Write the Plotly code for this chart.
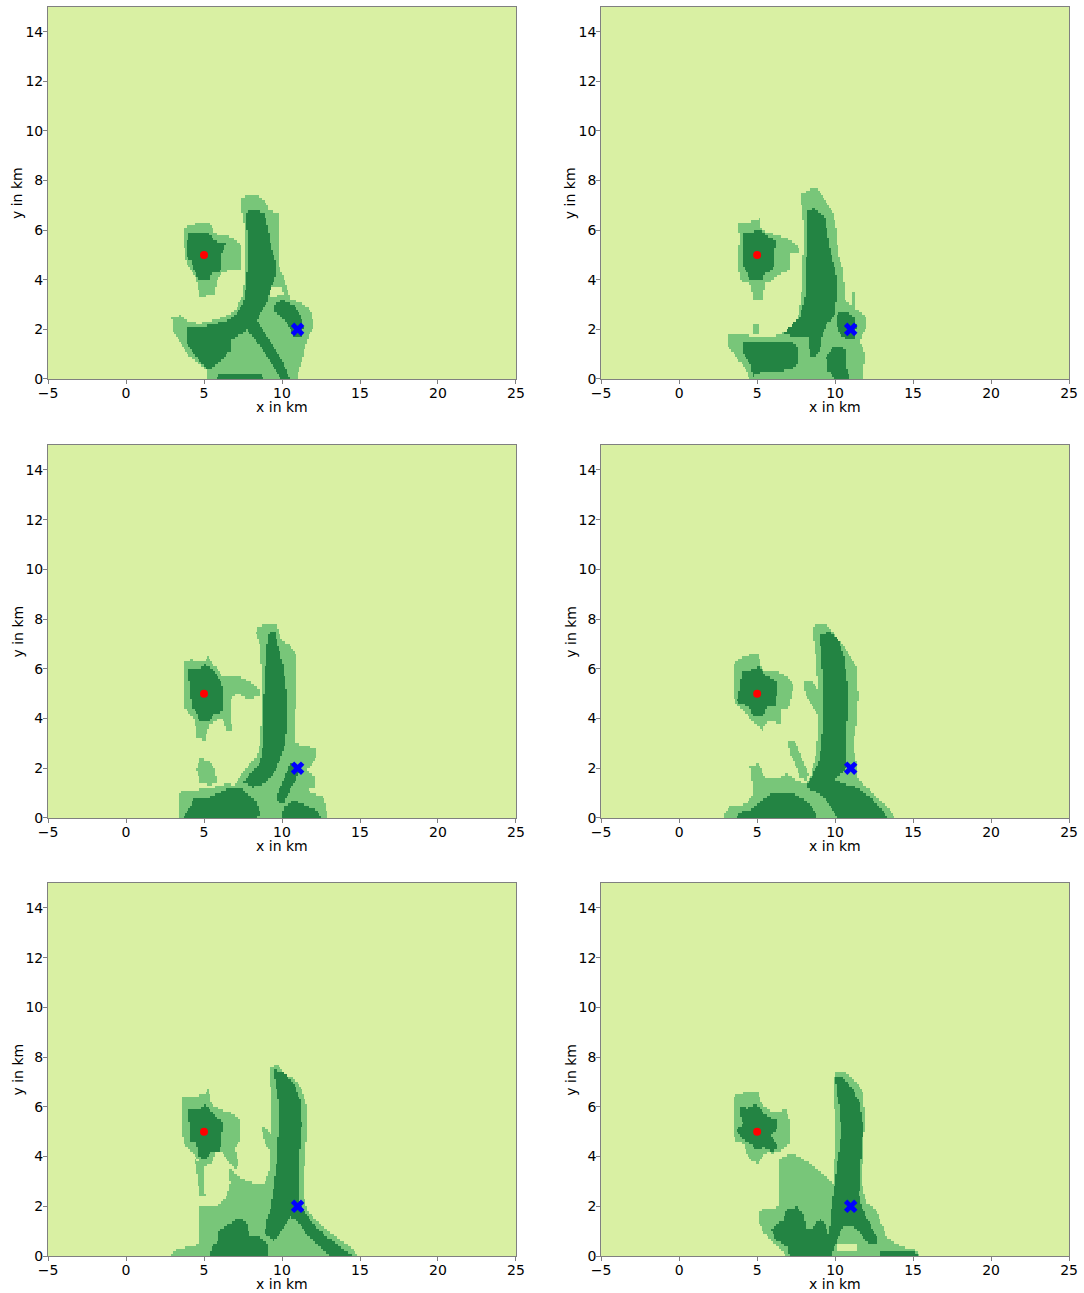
import numpy as np
import plotly.graph_objects as go

# ---- grid -------------------------------------------------------------
X_MIN, X_MAX, Y_MIN, Y_MAX, CELL = -5.0, 25.0, 0.0, 15.0, 0.1
SOURCE = (5.0, 5.0)     # red dot
RECEIVER = (11.0, 2.0)  # blue cross
X_TICKS = [-5, 0, 5, 10, 15, 20, 25]
Y_TICKS = [0, 2, 4, 6, 8, 10, 12, 14]
X_LABEL, Y_LABEL = "x in km", "y in km"

# ---- region outlines (km), per panel: medium class, light holes, dark class
P1_MID = [
    [(3.74, 6.13), (4.53, 6.27), (5.38, 6.29), (5.71, 5.86), (6.45, 5.79), (7.09, 5.59), (7.41, 5.32),
     (7.41, 4.45), (6.13, 4.31), (5.81, 3.98), (5.71, 3.44), (4.74, 3.30), (4.53, 3.98), (3.89, 4.65), (3.74, 5.32)],
    [(7.52, 7.34), (8.38, 7.41), (9.02, 7.07), (9.12, 6.80), (9.76, 6.67), (9.76, 4.65), (10.09, 4.11),
     (10.30, 3.71), (10.51, 3.24), (11.37, 3.03), (11.90, 2.70), (12.01, 2.09), (11.69, 1.69), (11.26, 0.75),
     (10.94, 0.0), (5.17, 0.0), (5.17, 0.34), (4.53, 0.68), (3.89, 1.02), (3.57, 1.42), (3.03, 1.96),
     (2.93, 2.50), (3.46, 2.56), (4.00, 2.29), (4.74, 2.23), (5.60, 2.36), (6.45, 2.56), (7.09, 2.83),
     (7.52, 3.44), (7.63, 4.65), (7.63, 6.00), (7.41, 6.80), (7.41, 7.21)],
]
P1_HOLE = [
    [(9.12, 3.64), (9.98, 3.68), (10.09, 3.37), (9.23, 3.33)],
]
P1_DARK = [
    [(4.00, 5.86), (4.74, 5.93), (5.28, 5.86), (5.81, 5.52), (6.45, 5.46), (6.13, 5.12), (6.03, 4.25),
     (5.49, 4.31), (5.38, 3.98), (4.64, 3.98), (4.38, 4.38), (4.21, 4.72), (3.89, 4.92), (3.93, 5.46)],
    [(7.69, 6.74), (8.38, 6.80), (8.91, 6.67), (9.12, 6.00), (9.34, 5.19), (9.62, 4.65), (9.55, 4.11),
     (9.23, 3.57), (9.02, 3.03), (8.59, 2.63), (8.38, 2.36), (8.80, 1.96), (9.44, 1.29), (10.09, 0.61),
     (10.51, 0.0), (9.98, 0.0), (9.44, 0.48), (8.80, 1.15), (8.16, 1.69), (7.74, 1.96), (7.09, 1.69),
     (6.67, 1.55), (6.67, 1.15), (6.13, 0.75), (5.28, 0.34), (4.53, 0.88), (3.89, 1.42), (3.85, 2.09),
     (4.74, 2.09), (5.81, 2.23), (6.56, 2.36), (7.09, 2.63), (7.52, 3.03), (7.74, 3.98), (7.78, 5.32),
     (7.74, 6.27)],
    [(9.55, 3.03), (10.09, 3.20), (10.73, 2.97), (11.15, 2.63), (11.37, 2.09), (11.26, 1.69), (10.73, 1.69),
     (10.51, 2.09), (9.98, 2.50), (9.49, 2.77)],
    [(5.92, 0.21), (8.59, 0.24), (8.80, 0.0), (5.81, 0.0)],
]

P2_MID = [
    [(3.78, 6.27), (4.53, 6.33), (5.17, 6.47), (5.28, 6.00), (6.24, 5.79), (6.99, 5.66), (7.74, 5.26),
     (7.74, 5.12), (7.09, 5.05), (7.09, 4.38), (6.45, 4.25), (6.03, 3.98), (5.49, 3.84), (5.38, 3.24),
     (4.74, 3.24), (4.53, 3.84), (3.89, 3.98), (3.78, 4.78), (3.89, 5.73)],
    [(7.84, 7.48), (8.70, 7.75), (9.02, 7.54), (9.44, 7.07), (9.87, 6.67), (10.09, 6.00), (10.19, 5.05),
     (10.51, 4.38), (10.62, 3.17), (11.37, 2.83), (12.01, 2.50), (12.01, 2.09), (11.58, 1.55), (11.90, 1.02),
     (11.79, 0.0), (4.53, 0.0), (4.32, 0.34), (3.68, 0.88), (3.14, 1.29), (3.14, 1.82), (4.10, 1.80),
     (4.96, 1.69), (6.03, 1.69), (6.99, 1.96), (7.63, 2.50), (7.84, 3.30), (7.95, 5.05), (7.95, 6.40),
     (7.84, 7.07)],
    [(11.05, 3.49), (11.26, 3.49), (11.26, 2.81), (11.05, 2.81)],
    [(4.74, 2.22), (5.06, 2.22), (5.06, 1.82), (4.74, 1.82)],
]
P2_HOLE = []
P2_DARK = [
    [(4.10, 5.86), (4.64, 5.93), (5.17, 6.02), (5.60, 5.79), (6.24, 5.59), (6.13, 5.19), (6.03, 4.38),
     (5.49, 4.31), (5.38, 3.98), (4.53, 3.98), (4.32, 4.38), (4.10, 4.52), (4.06, 5.32)],
    [(8.16, 6.80), (8.70, 6.87), (9.34, 6.53), (9.55, 5.73), (9.76, 4.92), (10.09, 4.11), (10.09, 3.30),
     (9.98, 2.63), (9.44, 2.16), (9.12, 1.69), (9.02, 1.15), (8.70, 0.88), (8.38, 0.95), (8.27, 1.69),
     (7.52, 1.69), (6.67, 1.82), (7.09, 2.09), (7.74, 2.50), (8.06, 3.30), (8.16, 5.05)],
    [(4.10, 1.49), (5.60, 1.55), (6.67, 1.55), (7.52, 1.42), (7.63, 0.88), (7.52, 0.48), (6.67, 0.34),
     (5.60, 0.34), (4.74, 0.14), (4.53, 0.61), (4.10, 1.02)],
    [(9.87, 1.29), (10.30, 1.35), (10.73, 1.15), (10.73, 0.48), (10.94, 0.0), (9.98, 0.0), (9.55, 0.34),
     (9.44, 0.88)],
    [(10.09, 2.63), (10.73, 2.74), (11.26, 2.50), (11.37, 2.09), (11.26, 1.62), (10.73, 1.55), (10.30, 1.82),
     (10.09, 2.16)],
]

P3_MID = [
    [(3.68, 6.29), (4.21, 6.36), (4.96, 6.29), (5.28, 6.49), (5.71, 6.09), (6.13, 5.69), (7.09, 5.75),
     (7.95, 5.48), (8.59, 5.15), (8.59, 4.88), (7.74, 4.81), (7.20, 5.01), (6.67, 4.81), (6.77, 3.53),
     (6.45, 3.53), (6.13, 4.07), (5.81, 3.94), (5.28, 3.73), (5.06, 3.13), (4.53, 3.20), (4.42, 3.94),
     (3.68, 4.48), (3.68, 5.42)],
    [(8.38, 7.64), (9.02, 7.84), (9.66, 7.77), (9.98, 7.10), (10.51, 6.96), (10.94, 6.49), (10.94, 5.01),
     (10.77, 3.94), (10.83, 2.99), (11.79, 2.86), (12.22, 2.73), (12.12, 2.32), (11.58, 1.92), (12.12, 1.65),
     (12.12, 1.24), (11.58, 1.11), (12.65, 0.84), (12.86, 0.30), (12.86, 0.0), (3.35, 0.0), (3.35, 1.04),
     (4.32, 1.11), (5.60, 1.24), (6.45, 1.38), (6.99, 1.31), (7.41, 1.78), (7.95, 2.19), (8.38, 2.46),
     (8.59, 2.99), (8.70, 4.34), (8.70, 5.69), (8.59, 6.90), (8.33, 7.44)],
    [(4.74, 2.39), (5.28, 2.32), (5.71, 1.92), (5.81, 1.45), (5.38, 1.31), (4.74, 1.45), (4.53, 1.92)],
]
P3_HOLE = []
P3_DARK = [
    [(4.00, 5.96), (4.74, 6.02), (5.06, 6.16), (5.60, 5.96), (5.81, 5.69), (6.13, 5.48), (6.20, 4.88),
     (6.20, 4.27), (5.60, 4.21), (5.38, 3.87), (4.74, 3.87), (4.53, 4.21), (4.21, 4.48), (4.10, 5.01)],
    [(9.12, 7.44), (9.55, 7.50), (9.76, 6.90), (10.09, 6.09), (10.30, 4.88), (10.30, 3.80), (10.19, 2.99),
     (9.87, 2.32), (9.44, 1.78), (8.91, 1.38), (8.16, 1.24), (7.52, 1.45), (7.95, 1.78), (8.59, 2.19),
     (8.80, 2.99), (8.80, 4.34), (8.91, 5.69), (9.02, 6.76)],
    [(4.32, 0.77), (5.38, 0.84), (6.67, 1.24), (7.31, 1.24), (7.74, 0.98), (8.38, 0.64), (8.59, 0.17),
     (8.38, 0.0), (3.68, 0.0), (4.10, 0.44)],
    [(10.51, 2.19), (10.94, 2.16), (11.15, 1.92), (10.51, 1.11), (10.09, 0.57), (9.76, 0.64), (9.66, 0.91),
     (10.09, 1.51)],
    [(10.09, 0.44), (10.73, 0.71), (11.58, 0.50), (12.22, 0.30), (12.54, 0.0), (9.98, 0.0)],
]

P4_MID = [
    [(3.46, 6.16), (4.10, 6.49), (5.06, 6.63), (5.28, 5.96), (6.24, 5.89), (7.09, 5.62), (7.31, 5.28),
     (7.20, 5.01), (7.09, 4.48), (6.45, 4.34), (6.56, 3.80), (5.60, 3.94), (5.38, 3.53), (4.74, 3.87),
     (4.10, 4.34), (3.57, 4.61), (3.46, 5.42)],
    [(8.70, 7.84), (9.44, 7.77), (9.87, 7.44), (10.73, 6.76), (11.37, 6.09), (11.47, 4.88), (11.37, 3.80),
     (11.15, 2.86), (11.37, 2.19), (11.37, 1.65), (12.01, 1.24), (12.86, 0.71), (13.61, 0.30), (13.82, 0.0),
     (2.82, 0.0), (3.14, 0.44), (4.32, 0.57), (4.74, 1.04), (4.53, 2.05), (5.06, 2.19), (5.49, 1.65),
     (6.24, 1.58), (6.88, 1.78), (7.52, 1.51), (8.16, 1.38), (8.48, 1.78), (8.80, 2.59), (8.91, 3.67),
     (8.91, 5.01), (8.80, 6.36), (8.59, 7.44)],
    [(7.95, 5.48), (8.59, 5.48), (9.23, 4.88), (9.55, 4.34), (9.44, 3.73), (9.02, 3.94), (8.59, 4.48),
     (8.06, 5.01)],
    [(6.99, 3.06), (7.41, 3.06), (7.84, 2.46), (8.27, 1.78), (8.16, 1.51), (7.74, 1.65), (7.41, 2.19),
     (7.09, 2.59)],
]
P4_HOLE = []
P4_DARK = [
    [(4.00, 5.89), (4.74, 5.96), (5.17, 6.09), (5.49, 5.75), (6.35, 5.48), (6.24, 4.88), (6.24, 4.54),
     (5.60, 4.48), (5.38, 4.07), (4.74, 4.07), (4.53, 4.48), (3.68, 4.68), (3.89, 5.15)],
    [(9.02, 7.37), (9.66, 7.50), (10.19, 7.17), (10.51, 6.63), (10.73, 5.69), (10.83, 4.61), (10.73, 3.67),
     (10.73, 2.73), (10.73, 2.05), (10.30, 1.72), (9.87, 1.58), (10.51, 1.38), (11.37, 1.24), (12.22, 0.84),
     (13.08, 0.30), (13.29, 0.0), (10.09, 0.0), (9.87, 0.30), (9.44, 0.71), (8.80, 1.04), (8.16, 1.24),
     (8.48, 1.65), (8.91, 2.19), (9.12, 2.99), (9.23, 4.34), (9.19, 5.69), (9.06, 6.76)],
    [(4.53, 0.30), (5.60, 0.84), (6.03, 1.04), (7.09, 1.04), (7.74, 0.84), (8.38, 0.57), (8.70, 0.30),
     (8.80, 0.0), (3.68, 0.0), (3.89, 0.24)],
]

P5_MID = [
    [(3.57, 6.35), (4.32, 6.41), (4.96, 6.48), (5.28, 6.68), (5.49, 6.08), (6.13, 5.87), (6.77, 5.74),
     (7.31, 5.47), (7.31, 4.66), (6.99, 4.39), (7.20, 3.72), (7.09, 3.45), (6.67, 3.72), (6.24, 4.13),
     (5.81, 4.26), (5.49, 3.72), (4.96, 3.59), (4.64, 3.86), (4.32, 4.13), (3.68, 4.53), (3.57, 5.34)],
    [(9.23, 7.62), (9.76, 7.69), (10.09, 7.29), (10.73, 7.15), (11.26, 6.68), (11.58, 6.01), (11.58, 4.93),
     (11.47, 3.86), (11.37, 2.64), (11.58, 1.84), (12.22, 1.43), (13.08, 0.96), (13.93, 0.56), (14.68, 0.22),
     (14.89, 0.0), (2.82, 0.0), (3.03, 0.22), (3.89, 0.36), (4.74, 0.49), (4.74, 1.97), (5.81, 1.97),
     (6.45, 2.38), (6.67, 2.91), (6.56, 3.59), (7.31, 3.12), (7.95, 2.98), (8.59, 2.85), (8.91, 2.91),
     (9.23, 3.59), (9.27, 4.93), (9.34, 6.28), (9.19, 7.22)],
    [(4.42, 3.86), (4.96, 3.72), (5.06, 2.38), (4.74, 2.38)],
    [(8.70, 5.20), (9.02, 5.13), (9.66, 4.39), (9.76, 3.92), (9.44, 3.99), (8.91, 4.53)],
]
P5_HOLE = []
P5_DARK = [
    [(4.00, 5.87), (4.74, 5.94), (5.06, 6.08), (5.49, 5.81), (5.81, 5.54), (6.24, 5.40), (6.13, 4.93),
     (6.03, 4.26), (5.49, 4.19), (5.06, 3.86), (4.64, 3.99), (4.53, 4.53), (4.10, 4.66), (4.10, 5.13),
     (4.00, 5.61)],
    [(9.44, 7.49), (9.98, 7.42), (10.73, 6.95), (11.15, 6.28), (11.26, 5.34), (11.15, 4.26), (11.05, 3.18),
     (11.05, 2.38), (11.26, 1.97), (11.79, 1.43), (12.65, 0.89), (13.50, 0.49), (14.36, 0.09), (14.57, 0.0),
     (13.08, 0.0), (12.44, 0.36), (11.58, 0.89), (10.94, 1.43), (10.51, 1.57), (10.09, 1.16), (9.76, 0.76),
     (9.44, 0.63), (8.91, 0.89), (9.02, 1.43), (9.23, 1.84), (9.44, 2.64), (9.66, 3.72), (9.76, 4.93),
     (9.76, 6.28), (9.55, 7.09)],
    [(5.92, 1.03), (6.67, 1.30), (7.31, 1.57), (7.74, 1.30), (7.95, 0.76), (8.59, 0.76), (9.12, 0.49),
     (9.12, 0.0), (5.38, 0.0), (5.49, 0.36), (5.92, 0.63)],
]

P6_MID = [
    [(3.46, 6.41), (4.10, 6.55), (5.06, 6.62), (5.28, 6.08), (5.92, 5.81), (6.88, 5.87), (7.09, 5.47),
     (7.09, 4.53), (6.56, 4.26), (6.03, 4.13), (5.60, 4.19), (5.06, 3.72), (4.53, 3.86), (4.10, 4.53),
     (3.57, 4.66), (3.46, 5.61)],
    [(9.98, 7.36), (10.73, 7.36), (11.37, 6.95), (11.79, 6.55), (11.90, 5.61), (11.79, 4.26), (11.69, 2.91),
     (12.01, 2.11), (12.65, 1.84), (12.97, 1.30), (13.29, 0.76), (14.15, 0.42), (15.21, 0.22), (15.43, 0.0),
     (6.88, 0.0), (6.56, 0.22), (5.92, 0.63), (5.38, 0.96), (5.06, 1.43), (5.17, 1.84), (6.35, 1.97),
     (6.45, 2.91), (6.35, 3.86), (7.09, 4.13), (7.74, 3.99), (8.59, 3.59), (9.44, 3.18), (9.87, 2.91),
     (9.98, 4.26), (9.98, 5.61), (9.87, 6.82)],
]
P6_HOLE = [
    [(10.09, 0.45), (11.37, 0.49), (11.37, 0.22), (10.09, 0.19)],
]
P6_DARK = [
    [(3.89, 6.01), (4.42, 5.94), (4.85, 6.14), (5.28, 5.87), (5.60, 5.61), (6.35, 5.47), (6.24, 5.07),
     (5.92, 4.87), (6.35, 4.39), (6.03, 4.19), (5.38, 4.39), (4.96, 4.26), (4.53, 4.53), (4.00, 4.73),
     (3.68, 5.07), (4.10, 5.34), (3.89, 5.67)],
    [(9.98, 7.22), (10.51, 7.15), (11.15, 6.68), (11.58, 6.14), (11.79, 5.20), (11.69, 4.26), (11.58, 3.18),
     (11.54, 2.38), (11.79, 1.84), (12.22, 1.30), (12.65, 0.76), (12.65, 0.49), (12.12, 0.49), (11.58, 0.96),
     (11.05, 1.23), (10.51, 1.16), (10.19, 0.76), (9.87, 0.22), (9.76, 0.0), (9.55, 0.0), (9.62, 1.03),
     (9.76, 1.97), (9.98, 2.91), (10.19, 3.99), (10.41, 4.93), (10.30, 5.87), (10.09, 6.68)],
    [(6.88, 1.84), (7.52, 1.97), (7.95, 1.70), (8.16, 1.03), (8.59, 1.16), (9.02, 1.50), (9.34, 1.30),
     (9.66, 0.76), (9.66, 0.0), (7.09, 0.0), (6.99, 0.36), (6.24, 0.63), (5.92, 1.03), (6.24, 1.30),
     (6.67, 1.43)],
    [(12.86, 0.15), (15.0, 0.19), (15.43, 0.0), (12.86, 0.0)],
]

# ---- styling ----------------------------------------------------------
C_LIGHT, C_MID, C_DARK = "#d9f0a3", "#78c679", "#238443"
FONT = "DejaVu Sans"

# panel layout in paper coordinates (x domain, y domain)
COLS = [(0.0443, 0.4760), (0.5546, 0.9862)]
ROWS = [(0.7069, 0.9946), (0.3674, 0.6558), (0.0286, 0.3171)]

panels = [
    (P1_MID, P1_HOLE, P1_DARK), (P2_MID, P2_HOLE, P2_DARK),
    (P3_MID, P3_HOLE, P3_DARK), (P4_MID, P4_HOLE, P4_DARK),
    (P5_MID, P5_HOLE, P5_DARK), (P6_MID, P6_HOLE, P6_DARK),
]

xc = np.arange(X_MIN + CELL / 2, X_MAX, CELL)
yc = np.arange(Y_MIN + CELL / 2, Y_MAX, CELL)
XX, YY = np.meshgrid(xc, yc)


def inside(poly, X, Y):
    """Even-odd point-in-polygon test on a grid of cell centres."""
    res = np.zeros(X.shape, dtype=bool)
    n = len(poly)
    j = n - 1
    for i in range(n):
        xi, yi = poly[i]
        xj, yj = poly[j]
        if yi != yj:
            cross = ((yi > Y) != (yj > Y)) & (X < (xj - xi) * (Y - yi) / (yj - yi) + xi)
            res ^= cross
        j = i
    return res


def classify(mids, holes, darks):
    z = np.zeros(XX.shape)
    for p in mids:
        z[inside(p, XX, YY)] = 1
    for p in holes:
        z[inside(p, XX, YY)] = 0
    for p in darks:
        z[inside(p, XX, YY)] = 2
    return z


colorscale = [[0.0, C_LIGHT], [0.3333, C_LIGHT], [0.3333, C_MID], [0.6667, C_MID],
              [0.6667, C_DARK], [1.0, C_DARK]]

fig = go.Figure()
layout = {}
annotations = []
for k, (mids, holes, darks) in enumerate(panels):
    r, c = divmod(k, 2)
    sfx = "" if k == 0 else str(k + 1)
    xa, ya = "x" + sfx, "y" + sfx
    z = classify(mids, holes, darks)
    fig.add_trace(go.Heatmap(x=xc, y=yc, z=z, zmin=0, zmax=2, colorscale=colorscale,
                             showscale=False, xaxis=xa, yaxis=ya, hoverinfo="skip"))
    fig.add_trace(go.Scatter(x=[SOURCE[0]], y=[SOURCE[1]], mode="markers",
                             marker=dict(color="red", size=8, symbol="circle"),
                             xaxis=xa, yaxis=ya, showlegend=False))
    fig.add_trace(go.Scatter(x=[RECEIVER[0]], y=[RECEIVER[1]], mode="markers",
                             marker=dict(color="blue", size=12, symbol="x"),
                             xaxis=xa, yaxis=ya, showlegend=False))
    common = dict(showline=True, mirror=True, linecolor="#808080", linewidth=1,
                  ticks="outside", ticklen=4, tickcolor="#808080", showgrid=False, zeroline=False,
                  automargin=False, tickfont=dict(family=FONT, size=14, color="black"))
    layout["xaxis" + sfx] = dict(domain=list(COLS[c]), anchor=ya, range=[X_MIN, X_MAX],
                                 tickvals=X_TICKS, ticklabelstandoff=-3, **common)
    layout["yaxis" + sfx] = dict(domain=list(ROWS[r]), anchor=xa, range=[Y_MIN, Y_MAX],
                                 tickvals=Y_TICKS, ticklabelstandoff=-3, **common)
    # axis titles
    annotations.append(dict(text=X_LABEL, xref=xa + " domain", yref=ya + " domain", x=0.5, y=0,
                            yshift=-28, xanchor="center", yanchor="middle", showarrow=False,
                            font=dict(family=FONT, size=14, color="black")))
    annotations.append(dict(text=Y_LABEL, xref=xa + " domain", yref=ya + " domain", x=0, y=0.5,
                            xshift=-31, xanchor="center", yanchor="middle", textangle=-90,
                            showarrow=False, font=dict(family=FONT, size=14, color="black")))

fig.update_layout(width=1084, height=1293, margin=dict(l=0, r=0, t=0, b=0),
                  paper_bgcolor="white", plot_bgcolor=C_LIGHT, showlegend=False,
                  annotations=annotations, **layout)
fig.write_html("out.html")
